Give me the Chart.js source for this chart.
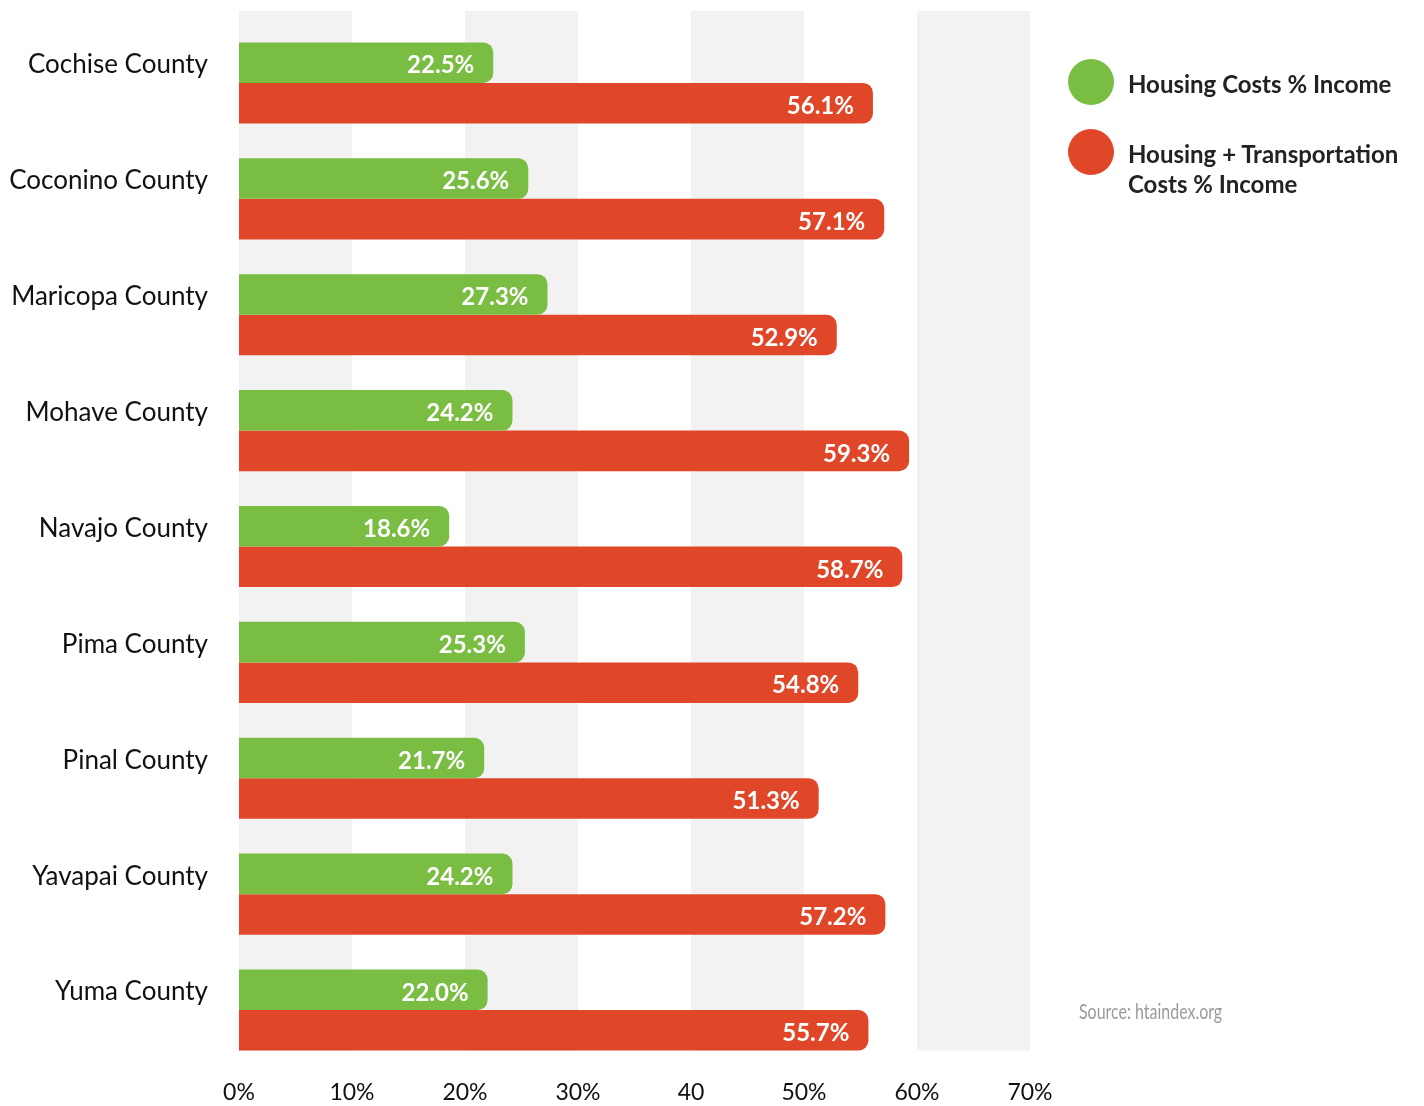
<!DOCTYPE html>
<html>
<head>
<meta charset="utf-8">
<script src="https://cdn.jsdelivr.net/npm/chart.js@4"></script>
<style>
  html, body { margin: 0; padding: 0; background: #ffffff; }
  #wrap { position: relative; width: 1424px; height: 1106px; }
  #wrap canvas { position: absolute; left: 0; top: 0; }
  .legend { position: absolute; left: 1068px; top: 59px; font-family: Lato, "Noto Sans", sans-serif; font-weight: 700; font-size: 24px; color: #222; }
  .item { position: relative; padding-left: 60px; line-height: 30px; }
  .dot { position: absolute; left: 0; top: 0; width: 46px; height: 46px; border-radius: 50%; }
  .source { position: absolute; left: 1079px; top: 998px; font-family: Lato, "Noto Sans", sans-serif; font-size: 21px; color: #9a9a9a; transform: scaleX(0.76); transform-origin: left center; white-space: nowrap; }
</style>
</head>
<body>
<div id="wrap">
  <canvas id="chart" width="1424" height="1106"></canvas>
  <div class="legend">
    <div class="item" style="padding-top:10px;height:46px;"><span class="dot" style="background:#79bd43;"></span>Housing Costs % Income</div>
    <div class="item" style="margin-top:14px;padding-top:10px;"><span class="dot" style="background:#e04728;"></span>Housing + Transportation<br>Costs % Income</div>
  </div>
  <div class="source">Source: htaindex.org</div>
</div>
<script>
const categories = ['Cochise County', 'Coconino County', 'Maricopa County', 'Mohave County', 'Navajo County', 'Pima County', 'Pinal County', 'Yavapai County', 'Yuma County'];
const housingCosts = [22.5, 25.6, 27.3, 24.2, 18.6, 25.3, 21.7, 24.2, 22.0];
const housingTransportCosts = [56.1, 57.1, 52.9, 59.3, 58.7, 54.8, 51.3, 57.2, 55.7];
const xTickLabels = ['0%', '10%', '20%', '30%', '40', '50%', '60%', '70%'];
const seriesNames = ['Housing Costs % Income', 'Housing + Transportation Costs % Income'];

const FONT = 'Lato, "Noto Sans", sans-serif';

const bandPlugin = {
  id: 'bands',
  beforeDatasetsDraw(chart) {
    const { ctx, chartArea, scales } = chart;
    const x = scales.x;
    const meta = chart.getDatasetMeta(1);
    const last = meta.data[meta.data.length - 1];
    const top = chartArea.top - 14;
    const bottom = last.y + last.height / 2;
    ctx.save();
    ctx.fillStyle = '#f1f2f1';
    for (let v = x.min; v < x.max; v += 20) {
      const a = x.getPixelForValue(v);
      const b = x.getPixelForValue(Math.min(v + 10, x.max));
      ctx.fillRect(a, top, b - a, bottom - top);
    }
    ctx.restore();
  }
};

const valueLabelPlugin = {
  id: 'valueLabels',
  afterDatasetsDraw(chart) {
    const { ctx } = chart;
    ctx.save();
    ctx.fillStyle = '#ffffff';
    ctx.font = '700 24px ' + FONT;
    ctx.textAlign = 'right';
    ctx.textBaseline = 'middle';
    chart.data.datasets.forEach((ds, di) => {
      const meta = chart.getDatasetMeta(di);
      meta.data.forEach((el, i) => {
        ctx.fillText(ds.data[i].toFixed(1) + '%', el.x - 19, el.y + 3);
      });
    });
    ctx.restore();
  }
};

new Chart(document.getElementById('chart'), {
  type: 'bar',
  data: {
    labels: categories,
    datasets: [
      { label: seriesNames[0], data: housingCosts, backgroundColor: '#79bd43' },
      { label: seriesNames[1], data: housingTransportCosts, backgroundColor: '#e04728' }
    ]
  },
  options: {
    indexAxis: 'y',
    responsive: false,
    animation: false,
    layout: { padding: { top: 25, right: 394, left: 0, bottom: 0 } },
    datasets: {
      bar: { categoryPercentage: 0.7, barPercentage: 1.0, borderRadius: 10, borderSkipped: 'start' }
    },
    plugins: { legend: { display: false }, tooltip: { enabled: false } },
    scales: {
      x: {
        min: 0, max: 70,
        grid: { display: false, drawTicks: false },
        border: { display: false },
        afterFit(scale) { scale.height = 38; scale.paddingLeft = 0; scale.paddingRight = 0; },
        ticks: {
          stepSize: 10,
          padding: 11,
          color: '#111',
          font: { family: FONT, size: 23 },
          callback: (v, i) => xTickLabels[i]
        }
      },
      y: {
        grid: { display: false, drawTicks: false },
        border: { display: false },
        afterFit(scale) { scale.width = 239; scale.paddingTop = 0; scale.paddingBottom = 0; },
        ticks: {
          padding: 31,
          labelOffset: -18,
          color: '#111',
          font: { family: FONT, size: 26 }
        }
      }
    }
  },
  plugins: [bandPlugin, valueLabelPlugin]
});
</script>
</body>
</html>
